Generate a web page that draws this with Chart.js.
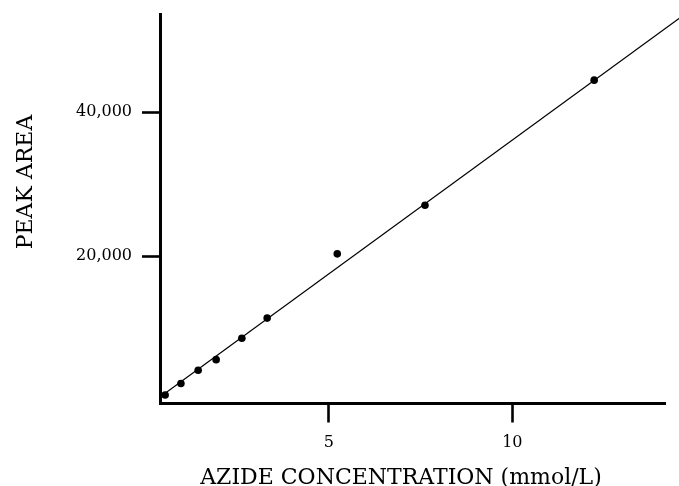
<!DOCTYPE html>
<html>
<head>
<meta charset="utf-8">
<script src="https://cdn.jsdelivr.net/npm/chart.js@4.4.1/dist/chart.umd.min.js"></script>
<style>
  html, body { margin: 0; padding: 0; background: #fff; }
  canvas { display: block; }
</style>
</head>
<body>
<canvas id="c" width="679" height="486"></canvas>
<script>
// Measured calibration points (azide concentration, mmol/L) and peak areas
const concentration = [0.54, 0.97, 1.44, 1.93, 2.63, 3.32, 5.23, 7.62, 12.23];
const peakArea      = [690, 2300, 4140, 5610, 8590, 11390, 20320, 27080, 44460];

// Regression line end points
const fitX = [0.4, 15];
const fitY = [433, 54745];

// Tick values and labels
const xTickValues = [5, 10];
const xTickLabels = ['5', '10'];
const yTickValues = [20000, 40000];
const yTickLabels = ['20,000', '40,000'];

// Axis ranges
const xRange = [0.4, 14.16];
const yRange = [-483, 53655];

const xTitle = 'AZIDE CONCENTRATION (mmol/L)';
const yTitle = 'PEAK AREA';

const FONT = "'DejaVu Serif', 'Liberation Serif', serif";

const titlePlugin = {
  id: 'axisTitles',
  afterDraw(chart) {
    const ctx = chart.ctx;
    const a = chart.chartArea;
    ctx.save();
    ctx.fillStyle = '#000';
    ctx.font = "22px " + FONT;
    ctx.textAlign = 'center';
    ctx.textBaseline = 'alphabetic';
    ctx.fillText(xTitle, a.left + 241, 484);
    ctx.translate(32, 182);
    ctx.rotate(-Math.PI / 2);
    ctx.fillText(yTitle, 0, 0);
    ctx.restore();
  }
};

const pts = concentration.map((x, i) => ({ x: x, y: peakArea[i] }));
const fit = fitX.map((x, i) => ({ x: x, y: fitY[i] }));

new Chart(document.getElementById('c'), {
  type: 'scatter',
  data: {
    datasets: [
      {
        label: 'fit',
        data: fit,
        showLine: true,
        borderColor: '#000',
        borderWidth: 1.2,
        pointRadius: 0,
        clip: false,
        order: 2
      },
      {
        label: 'data',
        data: pts,
        backgroundColor: '#000',
        borderColor: '#000',
        pointRadius: 3.8,
        borderWidth: 0,
        order: 1
      }
    ]
  },
  options: {
    responsive: false,
    animation: false,
    devicePixelRatio: 1,
    layout: { padding: { top: 14, right: 14, left: 0, bottom: 0 } },
    plugins: {
      legend: { display: false },
      tooltip: { enabled: false }
    },
    scales: {
      x: {
        type: 'linear',
        min: xRange[0],
        max: xRange[1],
        afterBuildTicks(s) { s.ticks = xTickValues.map(v => ({ value: v })); },
        afterFit(s) { s.height = 82.5; s.paddingLeft = 0; s.paddingRight = 0; },
        ticks: {
          callback(v) { const i = xTickValues.indexOf(v); return i >= 0 ? xTickLabels[i] : ''; },
          color: '#000',
          font: { family: FONT, size: 16 },
          padding: 11,
          maxRotation: 0,
          autoSkip: false
        },
        grid: {
          display: true,
          drawOnChartArea: false,
          drawTicks: true,
          tickLength: 19,
          tickWidth: 2.6,
          tickColor: '#000'
        },
        border: { display: true, width: 3, color: '#000' }
      },
      y: {
        type: 'linear',
        min: yRange[0],
        max: yRange[1],
        afterBuildTicks(s) { s.ticks = yTickValues.map(v => ({ value: v })); },
        afterFit(s) { s.width = 160; s.paddingTop = 0; s.paddingBottom = 0; },
        ticks: {
          callback(v) { const i = yTickValues.indexOf(v); return i >= 0 ? yTickLabels[i] : ''; },
          color: '#000',
          font: { family: FONT, size: 16 },
          padding: 10,
          autoSkip: false
        },
        grid: {
          display: true,
          drawOnChartArea: false,
          drawTicks: true,
          tickLength: 18,
          tickWidth: 2.6,
          tickColor: '#000'
        },
        border: { display: true, width: 3, color: '#000' }
      }
    }
  },
  plugins: [titlePlugin]
});
</script>
</body>
</html>
